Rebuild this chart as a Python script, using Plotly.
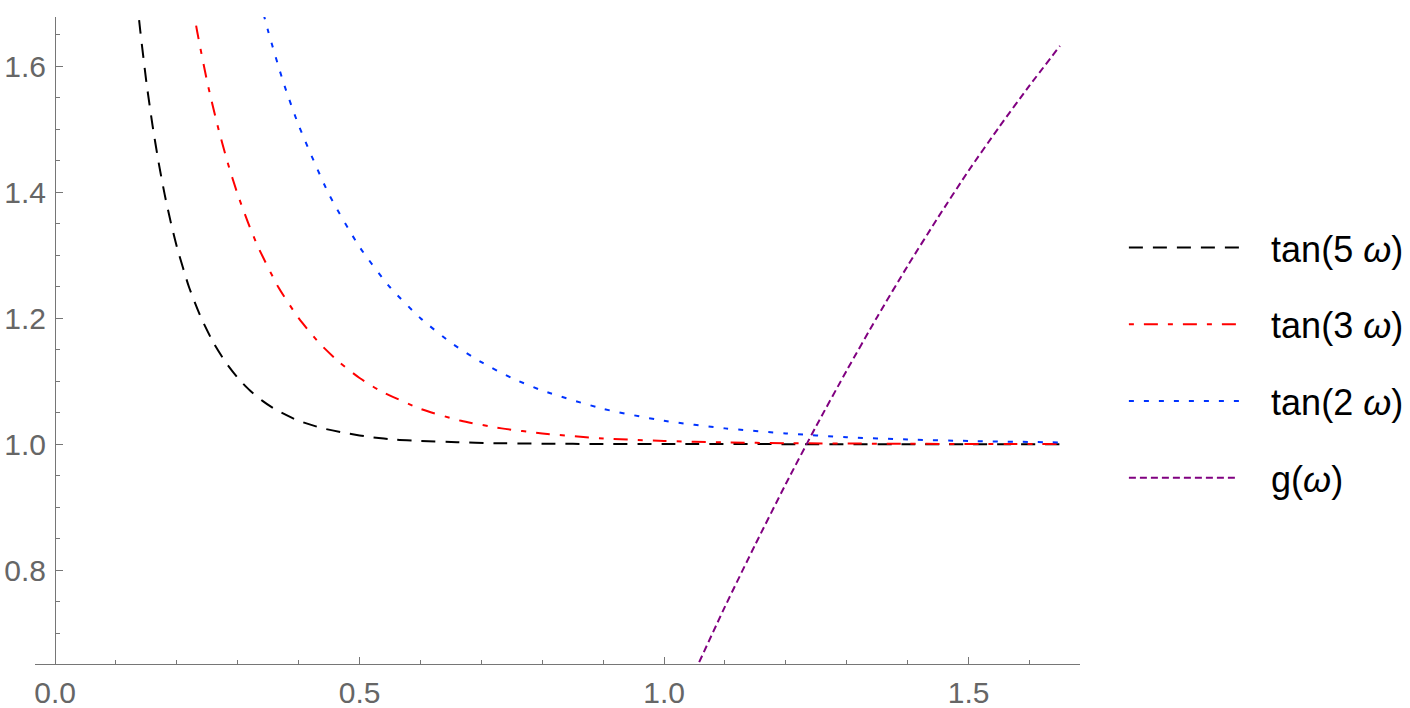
import plotly.graph_objects as go

# values
omega_5 = [0.13, 0.136, 0.14, 0.15, 0.16, 0.17, 0.18, 0.19, 0.20, 0.22, 0.24, 0.26, 0.28, 0.30,
           0.32, 0.34, 0.36, 0.38, 0.40, 0.44, 0.48, 0.52, 0.56, 0.60, 0.66, 0.72, 0.80, 0.90,
           1.00, 1.20, 1.40, 1.65]
tan_5 = [1.749, 1.691, 1.655, 1.574, 1.506, 1.447, 1.396, 1.352, 1.313, 1.249, 1.200, 1.161, 1.130, 1.105,
         1.085, 1.069, 1.056, 1.046, 1.037, 1.025, 1.017, 1.011, 1.007, 1.005, 1.003, 1.0015, 1.0007, 1.0002,
         1.0001, 1.0, 1.0, 1.0]

omega_3 = [0.2167, 0.2333, 0.25, 0.2667, 0.2833, 0.30, 0.3167, 0.3333, 0.3667, 0.40, 0.4333, 0.4667,
           0.50, 0.5333, 0.60, 0.6667, 0.7333, 0.80, 0.90, 1.00, 1.10, 1.20, 1.40, 1.65]
tan_3 = [1.749, 1.655, 1.574, 1.506, 1.447, 1.396, 1.352, 1.313, 1.249, 1.200, 1.161, 1.130,
         1.105, 1.085, 1.056, 1.037, 1.025, 1.017, 1.009, 1.005, 1.0027, 1.0015, 1.0005, 1.0001]

omega_2 = [0.33, 0.35, 0.375, 0.40, 0.45, 0.50, 0.55, 0.60, 0.65, 0.70, 0.75, 0.80, 0.90,
           1.00, 1.10, 1.20, 1.30, 1.40, 1.50, 1.65]
tan_2 = [1.729, 1.655, 1.574, 1.506, 1.396, 1.313, 1.249, 1.200, 1.161, 1.130, 1.105, 1.085, 1.056,
         1.037, 1.025, 1.017, 1.011, 1.0074, 1.005, 1.0027]

omega_g = [1.05, 1.10, 1.15, 1.20, 1.25, 1.30, 1.35, 1.40, 1.45, 1.50, 1.55, 1.60, 1.65]
g_vals = [0.638, 0.742, 0.841, 0.937, 1.029, 1.117, 1.202, 1.283, 1.360, 1.434, 1.503, 1.569, 1.632]

x_ticks = [0.0, 0.5, 1.0, 1.5]
x_tick_text = ["0.0", "0.5", "1.0", "1.5"]
y_ticks = [0.8, 1.0, 1.2, 1.4, 1.6]
y_tick_text = ["0.8", "1.0", "1.2", "1.4", "1.6"]

x_range = [-0.033, 1.683]
y_range = [0.651, 1.678]

axis_grey = "#767676"
label_grey = "#666666"
pad = "\u00a0\u00a0\u2009"

fig = go.Figure()
fig.add_trace(go.Scatter(x=omega_5, y=tan_5, mode='lines', name=pad + "tan(5 <i>ω</i>)", legendgroup='a',
                         line=dict(color='black', width=2, dash='14px,10px', shape='spline', smoothing=0.6)))
fig.add_trace(go.Scatter(x=omega_3, y=tan_3, mode='lines', name=pad + "tan(3 <i>ω</i>)", legendgroup='b',
                         line=dict(color='#ff0000', width=2, dash='5px,10px,14px,10px', shape='spline', smoothing=0.6)))
fig.add_trace(go.Scatter(x=omega_2, y=tan_2, mode='lines', name=pad + "tan(2 <i>ω</i>)", legendgroup='c',
                         line=dict(color='#0033ff', width=2, dash='5px,10px', shape='spline', smoothing=0.6)))
fig.add_trace(go.Scatter(x=omega_g, y=g_vals, mode='lines', name=pad + "g(<i>ω</i>)", legendgroup='d',
                         line=dict(color='#800080', width=2, dash='7px,4px', shape='spline', smoothing=0.6)))

fig.update_xaxes(range=x_range, showgrid=False, zeroline=False, showline=True, linecolor=axis_grey, linewidth=1.3,
                 tickvals=x_ticks, ticktext=x_tick_text, ticks='inside', ticklen=7, tickcolor=axis_grey,
                 tickfont=dict(size=30, color=label_grey, family="Liberation Sans, Arial"),
                 ticklabelstandoff=2,
                 minor=dict(dtick=0.1, tick0=0, ticks='inside', ticklen=4, tickcolor=axis_grey))
fig.update_yaxes(range=y_range, showgrid=False, zeroline=False, showline=True, linecolor=axis_grey, linewidth=1.3,
                 anchor='free', position=(0 - x_range[0]) / (x_range[1] - x_range[0]),
                 tickvals=y_ticks, ticktext=y_tick_text, ticks='inside', ticklen=7, tickcolor=axis_grey,
                 tickfont=dict(size=30, color=label_grey, family="Liberation Sans, Arial"),
                 ticklabelstandoff=3,
                 minor=dict(dtick=0.05, tick0=0, ticks='inside', ticklen=4, tickcolor=axis_grey),
                 automargin=False)

fig.update_layout(
    width=1410,
    height=708,
    template="plotly_white",
    plot_bgcolor='white',
    paper_bgcolor='white',
    margin=dict(l=35, r=330, t=17, b=44, autoexpand=False),
    showlegend=True,
    legend=dict(x=1.042, y=0.690, xanchor='left', yanchor='top', itemwidth=110,
                tracegroupgap=27, traceorder='grouped',
                font=dict(size=36, color='black', family="Liberation Sans, Arial"),
                bgcolor='rgba(0,0,0,0)'),
)

# page body has a default 8px margin; drop it so the figure sits at the window corner
fig.write_html("out.html", config={'displayModeBar': False},
               post_script="document.body.style.margin='0';")
